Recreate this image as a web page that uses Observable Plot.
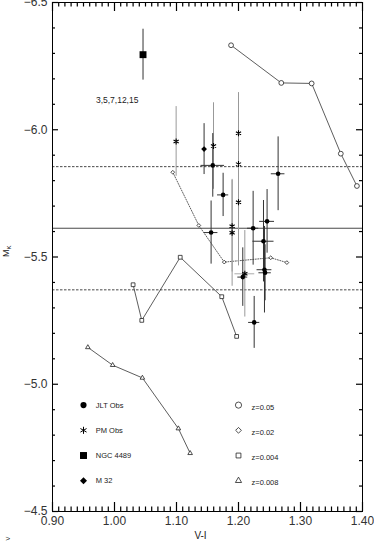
<!DOCTYPE html>
<html><head><meta charset="utf-8">
<script src="https://cdn.jsdelivr.net/npm/d3@7"></script>
<script src="https://cdn.jsdelivr.net/npm/@observablehq/plot@0.6"></script>
<style>
html,body{margin:0;padding:0;background:#fff;}
#chart{width:374px;height:544px;overflow:hidden;}
</style></head><body><div id="chart"></div>
<script>
// ---- model tracks (V-I, M_K) ----
const z05VI = [1.188, 1.269, 1.318, 1.365, 1.391];
const z05MK = [-6.332, -6.184, -6.182, -5.906, -5.779];
const z02VI = [1.094, 1.136, 1.177, 1.252, 1.278];
const z02MK = [-5.833, -5.624, -5.480, -5.497, -5.478];
const z004VI = [1.030, 1.044, 1.106, 1.173, 1.197];
const z004MK = [-5.391, -5.251, -5.499, -5.344, -5.188];
const z008VI = [0.957, 0.997, 1.045, 1.103, 1.122];
const z008MK = [-5.145, -5.075, -5.025, -4.826, -4.729];

// ---- JLT observations ----
const jltVI = [1.1585, 1.2639, 1.1752, 1.1558, 1.2236, 1.2461, 1.2403, 1.2419, 1.2429, 1.2069, 1.2253];
const jltMK = [-5.860, -5.827, -5.744, -5.596, -5.613, -5.640, -5.562, -5.450, -5.438, -5.421, -5.243];
const jltErrVI = [0.019, 0.011, 0.009, 0.011, 0.009, 0.012, 0.017, 0.012, 0.010, 0.008, 0.009];
const jltErrMK = [0.125, 0.145, 0.085, 0.124, 0.145, 0.125, 0.16, 0.17, 0.11, 0.115, 0.102];

// ---- PM observations ----
const pmVI = [1.0994, 1.1597, 1.200, 1.200, 1.200, 1.1897, 1.1897, 1.2102];
const pmMK = [-5.954, -5.936, -5.986, -5.865, -5.715, -5.621, -5.595, -5.434];
const pmErrVI = [0, 0, 0, 0, 0, 0, 0, 0.016];
const pmErrMK = [0.137, 0.17, 0.16, 0.2, 0.25, 0.18, 0.21, 0.17];

// ---- single objects ----
const ngcVI = [1.046], ngcMK = [-6.295], ngcErrMK = [0.1];
const m32VI = [1.1445], m32MK = [-5.924], m32ErrMK = [0.1];

// ---- reference levels (mean and +/- 1 sigma) ----
const meanMK = [-5.613];
const sigmaMK = [-5.855, -5.371];

// ---- annotation ----
const noteText = ["3,5,7,12,15"];
const noteVI = [0.97];
const noteMK = [-6.114];

// ---- legend ----
const legendLeft = ["JLT Obs", "PM Obs", "NGC 4489", "M 32"];
const legendRight = ["z=0.05", "z=0.02", "z=0.004", "z=0.008"];

// ---- axes ----
const xMajor = [0.9, 1.0, 1.1, 1.2, 1.3, 1.4];
const xTickLabels = ["0.90", "1.00", "1.10", "1.20", "1.30", "1.40"];
const yMajor = [-6.5, -6.0, -5.5, -5.0, -4.5];
const yTickLabels = ["\u22126.5", "\u22126.0", "\u22125.5", "\u22125.0", "\u22124.5"];
const xMinor = d3.range(91, 140).filter(d => d % 10 !== 0).map(d => d / 100);
const yMinor = d3.range(-64, -45).filter(d => d % 5 !== 0).map(d => d / 10);
const xLabel = "V-I";
const yLabel = "M";
const yLabelSub = "K";

// ---- build tables ----
const track = (vi, mk) => vi.map((x, i) => ({x, y: mk[i]}));
const z05 = track(z05VI, z05MK), z02 = track(z02VI, z02MK), z004 = track(z004VI, z004MK), z008 = track(z008VI, z008MK);
const jlt = jltVI.map((x, i) => ({x, y: jltMK[i], ex: jltErrVI[i], ey: jltErrMK[i]}));
const pm = pmVI.map((x, i) => ({x, y: pmMK[i], ex: pmErrVI[i], ey: pmErrMK[i]}));
const ngc = ngcVI.map((x, i) => ({x, y: ngcMK[i], ey: ngcErrMK[i]}));
const m32 = m32VI.map((x, i) => ({x, y: m32MK[i], ey: m32ErrMK[i]}));
const note = noteText.map((t, i) => ({t, x: noteVI[i], y: noteMK[i]}));

// legend layout rows
const legRowY = i => -4.918 + 0.099 * i;
const legL = legendLeft.map((t, i) => ({t, y: legRowY(i)}));
const legR = legendRight.map((t, i) => ({t, y: legRowY(i)}));
const legLSym = ["circle", "asterisk", "square", "diamond2"];
const legLR = [2.4, 2.8, 3.9, 2.5];
const legRSym = ["circle", "diamond2", "square2", "triangle2"];
const legRR = [2.4, 1.7, 2.4, 2.2];

const W = 374, H = 544, ML = 52, MR = 12, MT = 2, MB = 33;
const PW = W - ML - MR, PH = H - MT - MB;

const font = "'Liberation Sans', Arial, sans-serif";
const ink = "#222";
const lineInk = "#333";
const tickInk = "#000";

const vBars = (data, stroke) => Plot.ruleX(data.filter(d => d.ey > 0), {x: "x", y1: d => d.y - d.ey, y2: d => d.y + d.ey, stroke, strokeWidth: 1});
const hBars = (data, stroke) => Plot.ruleY(data.filter(d => d.ex > 0), {y: "y", x1: d => d.x - d.ex, x2: d => d.x + d.ex, stroke, strokeWidth: 1});

// inward ticks hugging the frame
const ticksBottom = (v, len) => Plot.tickX(v, {x: d => d, insetTop: PH - len, stroke: tickInk, strokeWidth: 1.2});
const ticksTop = (v, len) => Plot.tickX(v, {x: d => d, insetBottom: PH - len, stroke: tickInk, strokeWidth: 1.2});
const ticksLeft = (v, len) => Plot.tickY(v, {y: d => d, insetRight: PW - len, stroke: tickInk, strokeWidth: 1.2});
const ticksRight = (v, len) => Plot.tickY(v, {y: d => d, insetLeft: PW - len, stroke: tickInk, strokeWidth: 1.2});

const chart = Plot.plot({
  width: W, height: H,
  marginLeft: ML, marginRight: MR, marginTop: MT, marginBottom: MB,
  style: {fontFamily: font, background: "#fff", color: ink, overflow: "visible"},
  x: {domain: [0.9, 1.4]},
  y: {domain: [-4.5, -6.5]},
  marks: [
    Plot.ruleY(meanMK, {stroke: lineInk, strokeWidth: 0.9}),
    Plot.ruleY(sigmaMK, {stroke: lineInk, strokeWidth: 0.9, strokeDasharray: "2.5,1.5"}),
    Plot.line(z05, {x: "x", y: "y", stroke: lineInk, strokeWidth: 0.8}),
    Plot.line(z02, {x: "x", y: "y", stroke: lineInk, strokeWidth: 0.8, strokeDasharray: "1,1.5"}),
    Plot.line(z004, {x: "x", y: "y", stroke: lineInk, strokeWidth: 0.8}),
    Plot.line(z008, {x: "x", y: "y", stroke: lineInk, strokeWidth: 0.8}),
    vBars(pm, "#999"), hBars(pm, "#aaa"),
    vBars(jlt, "#333"), hBars(jlt, "#333"),
    vBars(ngc, "#333"), vBars(m32, "#333"),
    Plot.dot(z05, {x: "x", y: "y", symbol: "circle", r: 2.4, stroke: ink, strokeWidth: 0.8, fill: "white"}),
    Plot.dot(z02, {x: "x", y: "y", symbol: "diamond2", r: 1.7, stroke: ink, strokeWidth: 0.8, fill: "white"}),
    Plot.dot(z004, {x: "x", y: "y", symbol: "square2", r: 2.4, stroke: ink, strokeWidth: 0.8, fill: "white"}),
    Plot.dot(z008, {x: "x", y: "y", symbol: "triangle2", r: 2.2, stroke: ink, strokeWidth: 0.8, fill: "white"}),
    Plot.dot(pm, {x: "x", y: "y", symbol: "asterisk", r: 2.8, stroke: "#000", strokeWidth: 1.1}),
    Plot.dot(jlt, {x: "x", y: "y", symbol: "circle", r: 2.3, fill: "#000"}),
    Plot.dot(ngc, {x: "x", y: "y", symbol: "square", r: 3.9, fill: "#000"}),
    Plot.dot(m32, {x: "x", y: "y", symbol: "diamond2", r: 2.6, fill: "#000"}),
    Plot.text(note, {x: "x", y: "y", text: "t", textAnchor: "start", fontSize: 8.5, fill: ink}),
    Plot.dot(legL, {x: 0.95, y: "y", symbol: (d, i) => legLSym[i], r: (d, i) => legLR[i],
      fill: (d, i) => i === 1 ? "none" : "#000", stroke: (d, i) => i === 1 ? "#000" : "none", strokeWidth: 1}),
    Plot.text(legL, {x: 0.9698, y: "y", text: "t", textAnchor: "start", fontSize: 7.5, fill: ink}),
    Plot.dot(legR, {x: 1.2, y: "y", symbol: (d, i) => legRSym[i], r: (d, i) => legRR[i], stroke: ink, strokeWidth: 0.8, fill: "white"}),
    Plot.text(legR, {x: 1.221, y: "y", dy: 2, text: "t", textAnchor: "start", fontSize: 7.5, fill: ink}),
    Plot.frame({stroke: "#000", strokeWidth: 1}),
    ticksBottom(xMajor, 9), ticksBottom(xMinor, 4.5),
    ticksTop(xMajor, 9), ticksTop(xMinor, 4.5),
    ticksLeft(yMajor, 6), ticksLeft(yMinor, 3),
    ticksRight(yMajor, 6), ticksRight(yMinor, 3),
    Plot.axisX(xMajor, {anchor: "bottom", tickSize: 0, tickPadding: 5, tickFormat: (d, i) => xTickLabels[i], fontSize: 12, fill: "#333", label: null}),
    Plot.axisY(yMajor, {anchor: "left", tickSize: 0, tickPadding: 5, tickFormat: (d, i) => yTickLabels[i], fontSize: 12, fill: "#333", label: null}),
    Plot.text([xLabel], {frameAnchor: "bottom", dx: -7, dy: 27, text: d => d, fontSize: 10, fill: ink}),
    Plot.text([yLabel], {frameAnchor: "left", dx: -46, rotate: -90, text: d => d, fontSize: 9, fill: ink}),
    Plot.text([">"], {frameAnchor: "bottom-left", dx: -47, dy: 29, text: d => d, fontSize: 8, fill: ink})
  ]
});

// subscript K on the y title
d3.select(chart).selectAll("text").filter(function() { return this.textContent === yLabel; })
  .each(function() {
    d3.select(this).append("tspan").attr("dy", "0.35em").attr("font-size", "6").text(yLabelSub);
  });

document.getElementById("chart").appendChild(chart);
</script>
</body></html>
